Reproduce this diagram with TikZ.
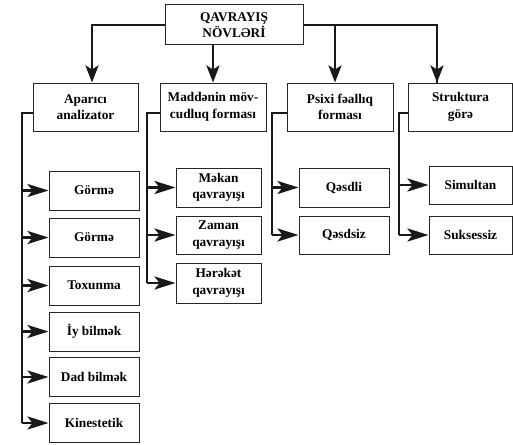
\documentclass[tikz,border=0pt]{standalone}
\usepackage{fontspec}
\setmainfont{Liberation Serif}
\usetikzlibrary{arrows.meta}
\begin{document}
\begin{tikzpicture}[x=1pt,y=-1pt,
  box/.style={draw=black!85,line width=1pt,fill=white,inner sep=0pt,align=center,
    font=\fontsize{13.3}{16.5}\selectfont\bfseries},
  conn/.style={draw=black!90,line width=2.8pt,line join=miter},
  vtip/.style={conn,-{Stealth[length=17pt,width=13pt,inset=4pt]}},
  htip/.style={conn,-{Stealth[length=21pt,width=13pt,inset=5pt]}}]
\useasboundingbox (0,0) rectangle (513,444);
% top
\node[box,minimum width=138pt,minimum height=40pt] (top) at (234,25) {QAVRAYIŞ\\NÖVLƏRİ};
% level 2
\node[box,minimum width=105pt,minimum height=48pt] (A) at (85.5,107) {Aparıcı\\analizator};
\node[box,minimum width=106pt,minimum height=48pt] (B) at (213,107) {Maddənin möv-\\cudluq forması};
\node[box,minimum width=106pt,minimum height=48pt] (C) at (340,107) {Psixi fəallıq\\forması};
\node[box,minimum width=104pt,minimum height=48pt] (D) at (460.5,107) {Struktura\\görə};
% column A
\node[box,minimum width=90pt,minimum height=39pt] (a1) at (94,190.5) {Görmə};
\node[box,minimum width=90pt,minimum height=39pt] (a2) at (94,237.5) {Görmə};
\node[box,minimum width=90pt,minimum height=39pt] (a3) at (94,285.5) {Toxunma};
\node[box,minimum width=90pt,minimum height=39pt] (a4) at (94,331.5) {İy bilmək};
\node[box,minimum width=90pt,minimum height=39pt] (a5) at (94,377) {Dad bilmək};
\node[box,minimum width=90pt,minimum height=39pt] (a6) at (94,423) {Kinestetik};
% column B
\node[box,minimum width=85pt,minimum height=39pt] (b1) at (218.5,187.5) {Məkan\\qavrayışı};
\node[box,minimum width=85pt,minimum height=38pt] (b2) at (218.5,235) {Zaman\\qavrayışı};
\node[box,minimum width=85pt,minimum height=40pt] (b3) at (218.5,283) {Hərəkət\\qavrayışı};
% column C
\node[box,minimum width=90pt,minimum height=39pt] (c1) at (344,187.5) {Qəsdli};
\node[box,minimum width=90pt,minimum height=38pt] (c2) at (344,235) {Qəsdsiz};
% column D
\node[box,minimum width=83pt,minimum height=38pt] (d1) at (470.5,185) {Simultan};
\node[box,minimum width=83pt,minimum height=38pt] (d2) at (470.5,235) {Suksessiz};
% top connectors
\draw[vtip] (top.west) -| ([xshift=6.5pt]A.north);
\draw[vtip] (top.south -| B.north) -- (B.north);
\draw[conn] (top.east) -| ([xshift=-23.5pt]D.north);
\draw[vtip] ([xshift=-23.5pt]D.north |- top.east) -- ([xshift=-23.5pt]D.north);
\draw[vtip] ([xshift=-5pt]C.north |- top.east) -- ([xshift=-5pt]C.north);
% trunks
\coordinate (ta) at (22,113);
\coordinate (tb) at (147,113);
\coordinate (tc) at (272,113);
\coordinate (td) at (399,113);
\draw[conn] ([yshift=-6pt]A.west) -- (ta) -- (ta |- a6.west);
\draw[conn] ([yshift=-6pt]B.west) -- (tb) -- (tb |- b3.west);
\draw[conn] ([yshift=-6pt]C.west) -- (tc) -- (tc |- c2.west);
\draw[conn] ([yshift=-6pt]D.west) -- (td) -- (td |- d2.west);
\foreach \n in {a1,a2,a3,a4,a5,a6} \draw[htip] (ta |- \n.west) -- (\n.west);
\foreach \n in {b1,b2,b3} \draw[htip] (tb |- \n.west) -- (\n.west);
\foreach \n in {c1,c2} \draw[htip] (tc |- \n.west) -- (\n.west);
\foreach \n in {d1,d2} \draw[htip] (td |- \n.west) -- (\n.west);
\end{tikzpicture}
\end{document}
